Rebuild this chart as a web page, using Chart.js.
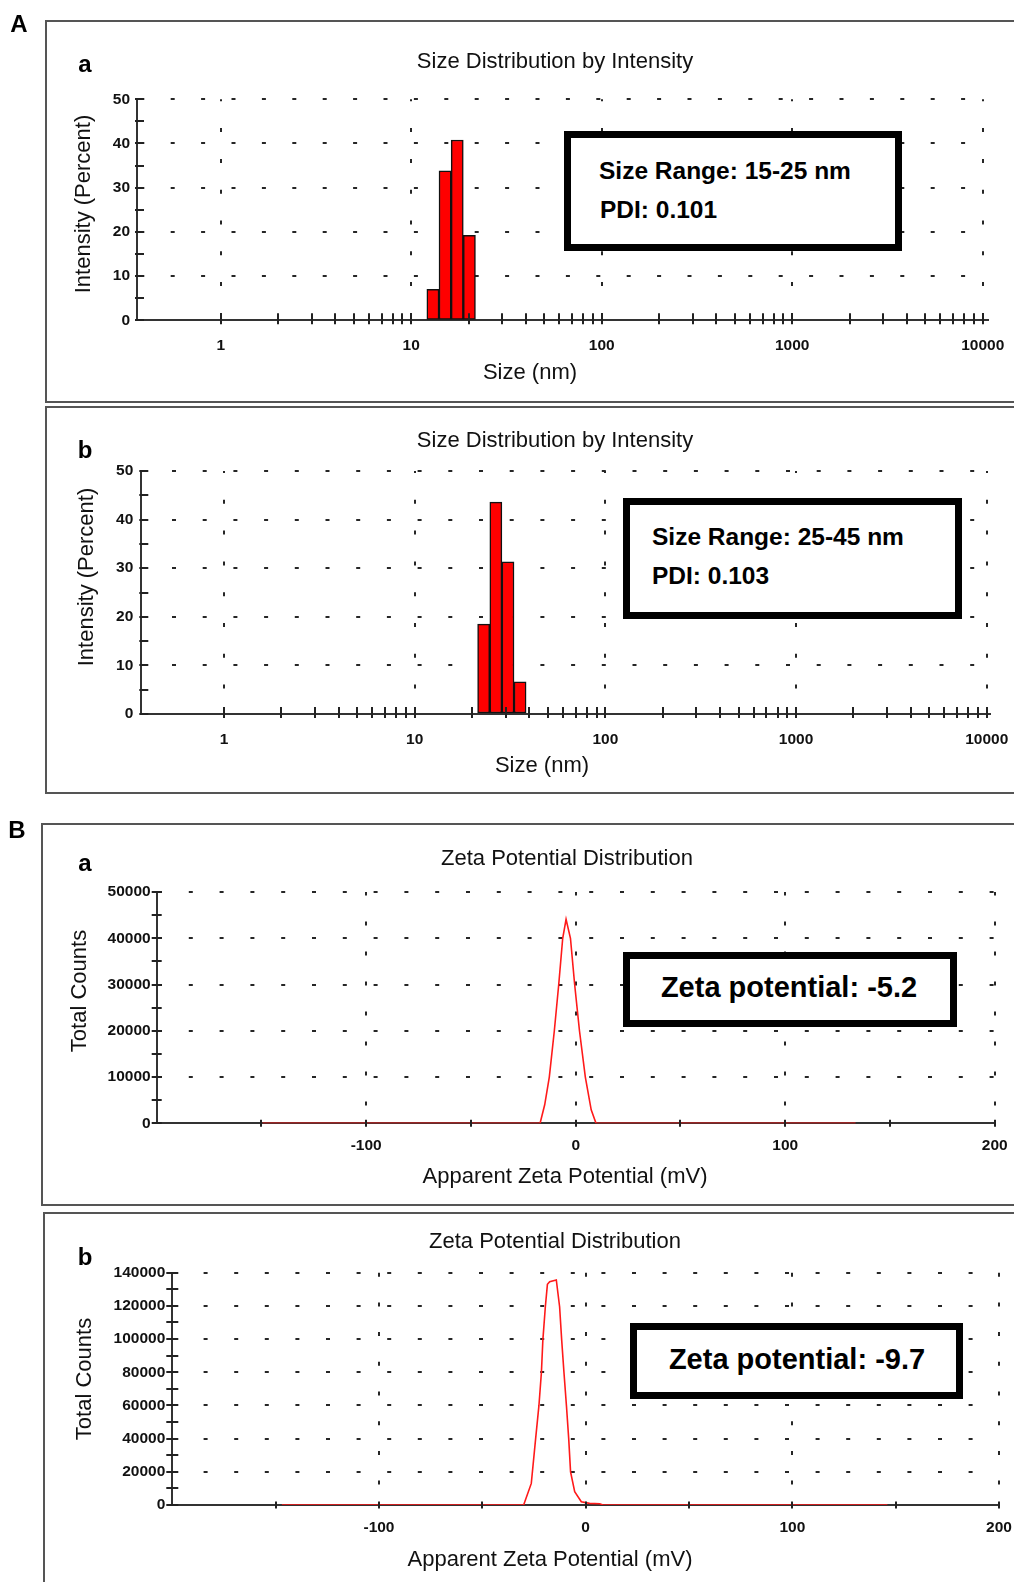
<!DOCTYPE html>
<html>
<head>
<meta charset="utf-8">
<title>Size distribution by intensity and zeta potential distribution</title>
<script src="https://cdn.jsdelivr.net/npm/chart.js@4.4.1/dist/chart.umd.min.js"></script>
<style>
  html, body { margin:0; padding:0; background:#fff; overflow:hidden; }
  body { width:1014px; height:1582px; position:relative; font-family:"Liberation Sans", Arial, Helvetica, sans-serif; color:#111; }
  .frame { position:absolute; border:2px solid #555; box-sizing:border-box; }
  canvas { position:absolute; left:0; }
  .c { position:absolute; transform:translate(-50%,-50%); white-space:nowrap; line-height:1; font-size:22px; }
  .r { position:absolute; transform:translate(-50%,-50%) rotate(-90deg); white-space:nowrap; line-height:1; font-size:22px; }
  .lab { position:absolute; transform:translate(-50%,-50%); white-space:nowrap; line-height:1; font-size:24px; font-weight:bold; color:#000; }
  .box { position:absolute; border:7px solid #000; background:#fff; box-sizing:border-box; }
  .bt { position:absolute; transform:translateY(-50%); white-space:nowrap; line-height:1; font-weight:bold; font-size:24.5px; color:#000; }
  .zt { position:absolute; transform:translate(-50%,-50%); white-space:nowrap; line-height:1; font-weight:bold; font-size:29px; color:#000; }
</style>
</head>
<body>
<div class="frame" style="left:45px;top:20px;width:1000px;height:383px"></div>
<div class="frame" style="left:45px;top:406px;width:1000px;height:388px"></div>
<div class="frame" style="left:41px;top:823px;width:1000px;height:383px"></div>
<div class="frame" style="left:43px;top:1212px;width:1000px;height:420px"></div>

<canvas id="cAa" width="1100" height="381" style="top:21px"></canvas>
<canvas id="cAb" width="1100" height="386" style="top:407px"></canvas>
<canvas id="cBa" width="1100" height="381" style="top:824px"></canvas>
<canvas id="cBb" width="1100" height="369" style="top:1213px"></canvas>

<div class="lab" style="left:19px;top:24px">A</div>
<div class="lab" style="left:85px;top:64px">a</div>
<div class="lab" style="left:85px;top:450px">b</div>
<div class="lab" style="left:17px;top:830px">B</div>
<div class="lab" style="left:85px;top:863px">a</div>
<div class="lab" style="left:85px;top:1257px">b</div>

<div class="c" style="left:555px;top:61px">Size Distribution by Intensity</div>
<div class="r" style="left:83px;top:204px">Intensity (Percent)</div>
<div class="c" style="left:530px;top:372px">Size (nm)</div>

<div class="c" style="left:555px;top:440px">Size Distribution by Intensity</div>
<div class="r" style="left:86px;top:577px">Intensity (Percent)</div>
<div class="c" style="left:542px;top:765px">Size (nm)</div>

<div class="c" style="left:567px;top:858px">Zeta Potential Distribution</div>
<div class="r" style="left:79px;top:991px">Total Counts</div>
<div class="c" style="left:565px;top:1176px">Apparent Zeta Potential (mV)</div>

<div class="c" style="left:555px;top:1241px">Zeta Potential Distribution</div>
<div class="r" style="left:84px;top:1379px">Total Counts</div>
<div class="c" style="left:550px;top:1559px">Apparent Zeta Potential (mV)</div>

<div class="box" style="left:564px;top:131px;width:338px;height:120px"></div>
<div class="bt" style="left:599px;top:171px">Size Range: 15-25 nm</div>
<div class="bt" style="left:600px;top:210px">PDI: 0.101</div>

<div class="box" style="left:623px;top:498px;width:339px;height:121px"></div>
<div class="bt" style="left:652px;top:537px">Size Range: 25-45 nm</div>
<div class="bt" style="left:652px;top:576px">PDI: 0.103</div>

<div class="box" style="left:623px;top:952px;width:334px;height:75px"></div>
<div class="zt" style="left:789px;top:987px">Zeta potential: -5.2</div>

<div class="box" style="left:630px;top:1323px;width:333px;height:76px"></div>
<div class="zt" style="left:797px;top:1359px">Zeta potential: -9.7</div>

<script>
// ---------------- data ----------------
const sizeA_nm = [13.0, 15.06, 17.44, 20.2];
const intensityA_pct = [7.0, 33.8, 40.8, 19.2];
const sizeB_nm = [23.0, 26.65, 30.85, 35.7];
const intensityB_pct = [18.5, 43.6, 31.3, 6.6];

const zetaA_mV = [-149.5, -17.0, -14.8, -12.6, -10.2, -8.1, -6.2, -4.6, -2.5, -0.5, 1.8, 4.6, 7.4, 9.7, 133.6];
const zetaA_counts = [0, 0, 4000, 10000, 20000, 30000, 40000, 44100, 40000, 30000, 20000, 10000, 2900, 0, 0];
const zetaB_mV = [-147, -30.0, -26.3, -24.2, -22.6, -21.4, -20.7, -19.5, -18.5, -17.4, -14.2, -12.6, -11.6, -10.5, -9.3, -8.2, -7.3, -5.3, -2.1, 1.9, 6.8, 8.4, 146];
const zetaB_counts = [0, 0, 13000, 40000, 60000, 80000, 99500, 119500, 133000, 134600, 135600, 119500, 99500, 80000, 60000, 40000, 20000, 8000, 2000, 1000, 800, 0, 0];

// ---------------- ticks ----------------
const sizeTicks = [1, 10, 100, 1000, 10000];
const sizeTickLabels = ['1', '10', '100', '1000', '10000'];
const sizeMinorTicks = [2, 3, 4, 5, 6, 7, 8, 9, 20, 30, 40, 50, 60, 70, 80, 90, 200, 300, 400, 500, 600, 700, 800, 900, 2000, 3000, 4000, 5000, 6000, 7000, 8000, 9000];
const pctTicks = [0, 10, 20, 30, 40, 50];
const pctTickLabels = ['0', '10', '20', '30', '40', '50'];
const pctMinorTicks = [5, 15, 25, 35, 45];
const zetaTicks = [-100, 0, 100, 200];
const zetaTickLabels = ['-100', '0', '100', '200'];
const zetaMinorTicks = [-150, -50, 50, 150];
const countsATicks = [0, 10000, 20000, 30000, 40000, 50000];
const countsATickLabels = ['0', '10000', '20000', '30000', '40000', '50000'];
const countsAMinorTicks = [5000, 15000, 25000, 35000, 45000];
const countsBTicks = [0, 20000, 40000, 60000, 80000, 100000, 120000, 140000];
const countsBTickLabels = ['0', '20000', '40000', '60000', '80000', '100000', '120000', '140000'];
const countsBMinorTicks = [10000, 30000, 50000, 70000, 90000, 110000, 130000];

const FONT = '"Liberation Sans", Arial, Helvetica, sans-serif';

// tick marks crossing the axis lines, placed through the scales
const tickMarks = {
  id: 'tickMarks',
  afterDatasetsDraw(chart, args, o) {
    const {ctx, chartArea} = chart;
    const xs = chart.scales.x, ys = chart.scales.y;
    ctx.save();
    ctx.strokeStyle = '#222';
    ctx.lineWidth = 2;
    ctx.beginPath();
    for (const v of o.xTicks) {
      const px = Math.round(xs.getPixelForValue(v));
      ctx.moveTo(px, chartArea.bottom - o.xIn);
      ctx.lineTo(px, chartArea.bottom + o.xOut);
    }
    for (const v of o.yTicks) {
      const py = Math.round(ys.getPixelForValue(v));
      ctx.moveTo(chartArea.left - o.yOut, py);
      ctx.lineTo(chartArea.left + o.yIn, py);
    }
    ctx.stroke();
    ctx.restore();
  }
};

function scaleOpts(o) {
  return {
    type: o.type, min: o.min, max: o.max, offset: false, bounds: 'data',
    grid: {
      offset: false, drawTicks: false, lineWidth: 2,
      color: c => (c.tick && o.grid.indexOf(c.tick.value) >= 0) ? '#262626' : 'rgba(0,0,0,0)'
    },
    border: { display: true, color: '#333', width: 2, dash: o.dash, dashOffset: o.dashOffset },
    ticks: {
      autoSkip: false, maxRotation: 0, minRotation: 0, padding: o.pad, color: '#111',
      font: { family: FONT, size: 15.5, weight: 'bold' },
      callback: v => { const i = o.ticks.indexOf(v); return i >= 0 ? o.labels[i] : ''; }
    },
    afterBuildTicks: s => { s.ticks = o.ticks.map(v => ({ value: v })); },
    afterFit: s => {
      if (o.fitW !== undefined) s.width = o.fitW;
      if (o.fitH !== undefined) s.height = o.fitH;
    }
  };
}

function build(id, type, datasets, x, y, pad, marks) {
  new Chart(document.getElementById(id), {
    type: type,
    data: { datasets: datasets },
    options: {
      responsive: false, animation: false, devicePixelRatio: 1, events: [],
      layout: { padding: pad },
      plugins: { legend: { display: false }, tooltip: { enabled: false }, title: { display: false }, tickMarks: marks },
      scales: { x: scaleOpts(x), y: scaleOpts(y) }
    },
    plugins: [tickMarks]
  });
}

function barSet(xs, ys) {
  return [{
    data: xs.map((v, i) => ({ x: v, y: ys[i] })),
    backgroundColor: '#ff0000', borderColor: '#111', borderWidth: 1.5, borderSkipped: false,
    barPercentage: 1, categoryPercentage: 1
  }];
}
function lineSet(xs, ys) {
  return [{
    data: xs.map((v, i) => ({ x: v, y: ys[i] })),
    borderColor: '#ff1a1a', borderWidth: 1.6, pointRadius: 0, tension: 0, fill: false
  }];
}

// A-a
build('cAa', 'bar', barSet(sizeA_nm, intensityA_pct),
  { type: 'logarithmic', min: 0.3636, max: 10660, ticks: sizeTicks, labels: sizeTickLabels, grid: sizeTicks, dash: [4, 26.8], dashOffset: 2, pad: 16, fitH: 40 },
  { type: 'linear', min: 0, max: 50, ticks: pctTicks, labels: pctTickLabels, grid: [10, 20, 30, 40, 50], dash: [4, 26.4], dashOffset: 28.1, pad: 7, fitW: 137 },
  { left: 0, right: 1100 - 988, top: 78.3, bottom: 41.7 },
  { xTicks: sizeTicks.concat(sizeMinorTicks), yTicks: pctTicks.concat(pctMinorTicks), xIn: 7, xOut: 4, yIn: 7, yOut: 2 });

// A-b
build('cAb', 'bar', barSet(sizeB_nm, intensityB_pct),
  { type: 'logarithmic', min: 0.3683, max: 10406, ticks: sizeTicks, labels: sizeTickLabels, grid: sizeTicks, dash: [4, 26.8], dashOffset: 2, pad: 16, fitH: 40 },
  { type: 'linear', min: 0, max: 50, ticks: pctTicks, labels: pctTickLabels, grid: [10, 20, 30, 40, 50], dash: [4, 26.7], dashOffset: 0.7, pad: 8, fitW: 141.3 },
  { left: 0, right: 1100 - 990, top: 64, bottom: 39 },
  { xTicks: sizeTicks.concat(sizeMinorTicks), yTicks: pctTicks.concat(pctMinorTicks), xIn: 7, xOut: 4, yIn: 7, yOut: 2 });

// B-a
build('cBa', 'line', lineSet(zetaA_mV, zetaA_counts),
  { type: 'linear', min: -200, max: 200, ticks: zetaTicks, labels: zetaTickLabels, grid: zetaTicks, dash: [4, 26], dashOffset: 0.4, pad: 13.4, fitH: 40 },
  { type: 'linear', min: 0, max: 50000, ticks: countsATicks, labels: countsATickLabels, grid: [10000, 20000, 30000, 40000, 50000], dash: [4, 26.8], dashOffset: 0, pad: 6, fitW: 156.7 },
  { left: 0, right: 1100 - 994.7, top: 68, bottom: 41.7 },
  { xTicks: zetaTicks.concat(zetaMinorTicks), yTicks: countsATicks.concat(countsAMinorTicks), xIn: 3.5, xOut: 3.5, yIn: 5, yOut: 5 });

// B-b
build('cBb', 'line', lineSet(zetaB_mV, zetaB_counts),
  { type: 'linear', min: -200, max: 200, ticks: zetaTicks, labels: zetaTickLabels, grid: zetaTicks, dash: [4, 25.7], dashOffset: 0, pad: 13.3, fitH: 40 },
  { type: 'linear', min: 0, max: 140000, ticks: countsBTicks, labels: countsBTickLabels, grid: [20000, 40000, 60000, 80000, 100000, 120000, 140000], dash: [4, 26.6], dashOffset: 0, pad: 7, fitW: 172.3 },
  { left: 0, right: 1100 - 999, top: 59.7, bottom: 37 },
  { xTicks: zetaTicks.concat(zetaMinorTicks), yTicks: countsBTicks.concat(countsBMinorTicks), xIn: 3.5, xOut: 3.5, yIn: 6, yOut: 6 });
</script>
</body>
</html>
